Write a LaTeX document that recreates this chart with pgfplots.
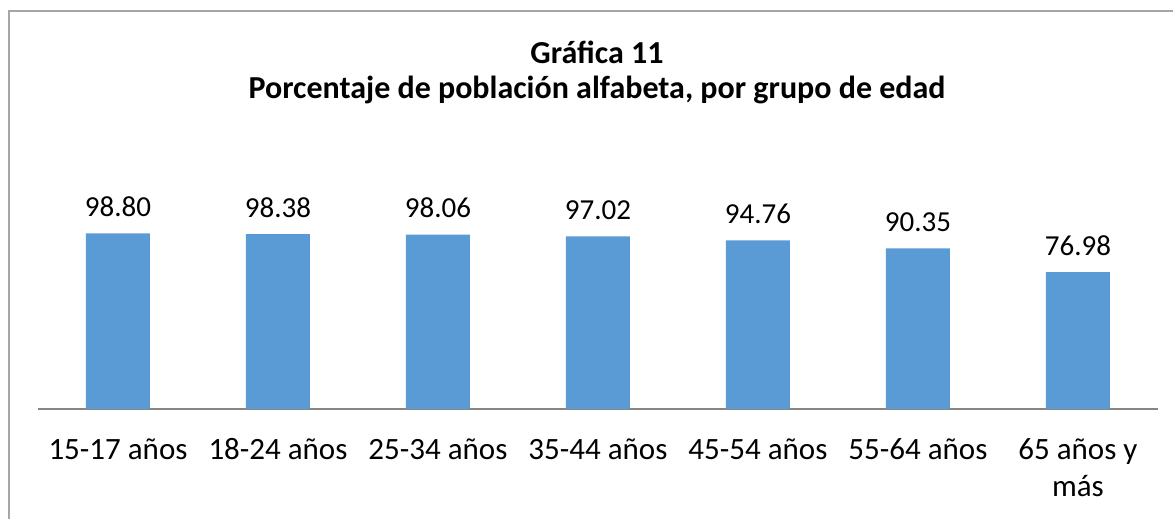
\documentclass[border=0pt]{standalone}
\usepackage{fontspec}
\setmainfont{Carlito}
\usepackage{pgfplots}
\pgfplotsset{compat=1.18}

\definecolor{barblue}{HTML}{5B9BD5}
\definecolor{axisgray}{HTML}{868686}
\definecolor{framegray}{HTML}{A6A6A6}

\begin{document}
\begin{tikzpicture}
    \useasboundingbox (0,0) rectangle (1173pt,519pt);
    % chart frame (cropped on the right and bottom)
    \draw[framegray, line width=1.2pt] (9pt,0pt) -- (9pt,508pt) -- (1173pt,508pt);
    % title
    \node[anchor=base, font=\bfseries\fontsize{32}{39}\selectfont] at (597pt,455pt) {Gráfica 11};
    \node[anchor=base, font=\bfseries\fontsize{32}{39}\selectfont] at (597pt,420pt) {Porcentaje de población alfabeta, por grupo de edad};
    \begin{axis}[
            at={(38pt,110pt)}, anchor=south west,
            scale only axis, width=1120pt, height=195.6pt,
            ybar, bar width=64pt,
            xmin=-0.5, xmax=6.5, ymin=0, ymax=110,
            axis y line=none,
            axis x line*=bottom,
            x axis line style={axisgray, line width=1.6pt, -},
            xtick=data, major tick length=0pt,
            xticklabels={15-17 años, 18-24 años, 25-34 años, 35-44 años, 45-54 años, 55-64 años,
                    {\begin{tabular}[t]{@{}c@{}}65 años y\\más\end{tabular}}},
            xticklabel style={anchor=base, yshift=-51pt, inner sep=0pt,
                    font=\fontsize{31}{37}\selectfont},
            nodes near coords,
            nodes near coords style={anchor=base, yshift=17pt, inner sep=0pt,
                    font=\fontsize{29}{35}\selectfont},
            /pgf/number format/.cd, fixed, precision=2, zerofill, assume math mode=true,
            /pgfplots/.cd,
            clip=false,
        ]
        \addplot[fill=barblue, draw=none]
        coordinates {
                (0, 98.80) (1, 98.38) (2, 98.06) (3, 97.02)
                (4, 94.76) (5, 90.35) (6, 76.98)
            };
    \end{axis}
\end{tikzpicture}
\end{document}
